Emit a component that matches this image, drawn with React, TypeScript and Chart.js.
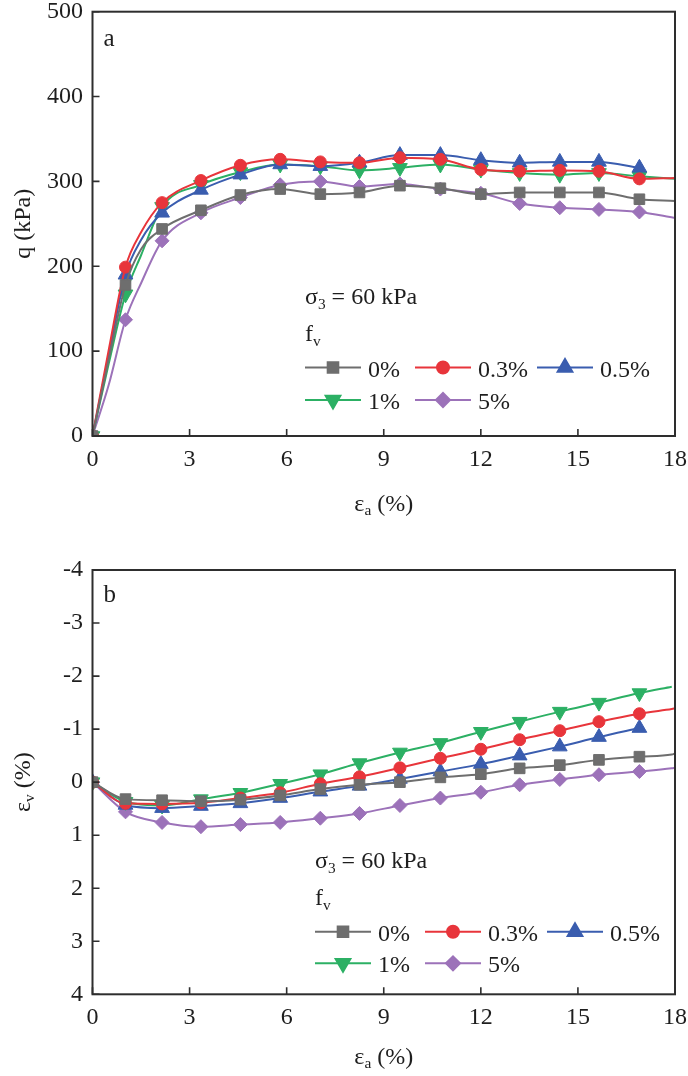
import React, { useEffect, useRef } from 'react';
import { Chart, registerables } from 'chart.js';
import { drawPoint } from 'chart.js/helpers';

Chart.register(...registerables);

const FONT = "'Liberation Serif', 'Times New Roman', serif";
const INK = '#1e1e1e';
const AXIS = '#2e2e2e';

// ---- series meta ----
const SERIES_LABELS = ['0%', '0.3%', '0.5%', '1%', '5%'];
const SERIES_COLORS = ['#6e6e6e', '#e8353b', '#3a5daf', '#2cb064', '#9c72b9'];
const SERIES_MARKERS = ['rect', 'circle', 'triangle', 'triangle', 'rectRot'];
const SERIES_ROTATION = [0, 0, 0, 180, 0];
const MARKER_RADIUS = [7.5, 6, 8.5, 8.5, 7];

// ---- panel a: deviator stress q (kPa) vs axial strain (%) ----
const STRAIN_A = [0, 0.5, 1.02, 1.5, 2.15, 3.35, 4.57, 5.8, 7.04, 8.25, 9.5, 10.75, 12, 13.2, 14.44, 15.65, 16.9, 18];
const MARKED_A = [1, 0, 1, 0, 1, 1, 1, 1, 1, 1, 1, 1, 1, 1, 1, 1, 1, 0];
const Q_0 = [0, 90, 178, 220, 244, 266, 284, 291, 285, 287, 295, 292, 285, 287, 287, 287, 279, 277];
const Q_03 = [0, 101, 199, 240, 275, 301, 319, 326, 323, 322, 328, 326, 314, 312, 313, 312, 303, 304];
const Q_05 = [0, 95, 190, 231, 263, 290, 308, 320, 318, 322, 331, 331, 325, 322, 323, 323, 316, null];
const Q_1 = [0, 85, 167, 213, 270, 296, 311, 320, 318, 313, 316, 320, 314, 310, 308, 310, 306, 303];
const Q_5 = [0, 60, 137, 180, 230, 263, 281, 296, 300, 294, 297, 291, 286, 274, 269, 267, 264, 257];
const Q_TICKS = [0, 100, 200, 300, 400, 500];

// ---- panel b: volumetric strain (%) vs axial strain (%) ----
const STRAIN_B = [0, 1.02, 2.15, 3.35, 4.57, 5.8, 7.04, 8.25, 9.5, 10.75, 12, 13.2, 14.44, 15.65, 16.9, 17.9, 18];
const MARKED_B = [1, 1, 1, 1, 1, 1, 1, 1, 1, 1, 1, 1, 1, 1, 1, 0, 0];
const EV_0 = [0, 0.32, 0.34, 0.36, 0.33, 0.25, 0.13, 0.05, 0.0, -0.09, -0.15, -0.26, -0.32, -0.42, -0.48, -0.52, -0.54];
const EV_03 = [0, 0.4, 0.41, 0.39, 0.3, 0.2, 0.03, -0.1, -0.27, -0.45, -0.62, -0.8, -0.97, -1.14, -1.29, -1.38, -1.39];
const EV_05 = [0, 0.43, 0.49, 0.45, 0.4, 0.3, 0.18, 0.07, -0.06, -0.2, -0.34, -0.5, -0.67, -0.85, -1.02, null, null];
const EV_1 = [0, 0.37, 0.44, 0.32, 0.2, 0.03, -0.15, -0.36, -0.56, -0.74, -0.95, -1.14, -1.33, -1.5, -1.68, -1.8, null];
const EV_5 = [0, 0.56, 0.76, 0.84, 0.8, 0.76, 0.68, 0.59, 0.44, 0.3, 0.19, 0.05, -0.05, -0.14, -0.2, -0.26, -0.27];
const EV_TICKS = [-4, -3, -2, -1, 0, 1, 2, 3, 4];

const STRAIN_TICKS = [0, 3, 6, 9, 12, 15, 18];

type Part = [string, boolean];

function drawRich(ctx: CanvasRenderingContext2D, parts: Part[], x: number, y: number, size: number, align: 'left' | 'center') {
  const subSize = size * 0.64;
  const widths = parts.map(([t, sub]) => {
    ctx.font = `${sub ? subSize : size}px ${FONT}`;
    return ctx.measureText(t).width;
  });
  const total = widths.reduce((a, b) => a + b, 0);
  let cx = align === 'center' ? x - total / 2 : x;
  ctx.textAlign = 'left';
  parts.forEach(([t, sub], i) => {
    ctx.font = `${sub ? subSize : size}px ${FONT}`;
    ctx.fillText(t, cx, sub ? y + size * 0.24 : y);
    cx += widths[i];
  });
}

interface PanelSpec {
  height: number;
  plotTop: number;
  plotBottom: number;
  xs: number[];
  marked: number[];
  ys: (number | null)[][];
  yMin: number;
  yMax: number;
  reverse: boolean;
  yTicks: number[];
  yTitle: Part[];
  letter: string;
  letterY: number;
  legendX: number;
  sigmaBase: number;
  fvBase: number;
  row1: number;
  row2: number;
  xTitleY: number;
}

function makeConfig(p: PanelSpec): any {
  const PLOT_LEFT = 92.5;
  const PLOT_RIGHT = 675;
  const datasets = p.ys.map((vals, i) => ({
    label: SERIES_LABELS[i],
    data: p.xs.map((x, k) => ({ x, y: vals[k] })),
    borderColor: SERIES_COLORS[i],
    backgroundColor: SERIES_COLORS[i],
    pointBackgroundColor: SERIES_COLORS[i],
    pointBorderColor: SERIES_COLORS[i],
    borderWidth: 2,
    pointBorderWidth: 1,
    pointStyle: SERIES_MARKERS[i],
    pointRotation: SERIES_ROTATION[i],
    pointRadius: p.marked.map((m) => (m ? MARKER_RADIUS[i] : 0)),
    pointHoverRadius: 0,
    cubicInterpolationMode: 'monotone',
    spanGaps: false,
  }));

  const decor = {
    id: 'decor',
    afterDraw(chart: any) {
      const ctx: CanvasRenderingContext2D = chart.ctx;
      const a = chart.chartArea;
      const xs = chart.scales.x;
      const ys = chart.scales.y;
      ctx.save();
      // box
      ctx.strokeStyle = AXIS;
      ctx.lineWidth = 2;
      ctx.strokeRect(a.left, a.top, a.right - a.left, a.bottom - a.top);
      // inward ticks
      ctx.lineWidth = 1.6;
      ctx.beginPath();
      xs.ticks.forEach((t: any) => {
        const px = xs.getPixelForValue(t.value);
        ctx.moveTo(px, a.bottom);
        ctx.lineTo(px, a.bottom - 7);
      });
      ys.ticks.forEach((t: any) => {
        const py = ys.getPixelForValue(t.value);
        ctx.moveTo(a.left, py);
        ctx.lineTo(a.left + 7, py);
      });
      ctx.stroke();

      ctx.fillStyle = INK;
      // panel letter
      ctx.textBaseline = 'middle';
      ctx.textAlign = 'left';
      ctx.font = `25px ${FONT}`;
      ctx.fillText(p.letter, a.left + 11, p.letterY);

      // axis titles
      ctx.textBaseline = 'middle';
      drawRich(ctx, [['ε', false], ['a', true], [' (%)', false]], (a.left + a.right) / 2, p.xTitleY, 24, 'center');
      ctx.save();
      ctx.translate(24, (a.top + a.bottom) / 2);
      ctx.rotate(-Math.PI / 2);
      drawRich(ctx, p.yTitle, 0, 0, 24, 'center');
      ctx.restore();

      // annotation + legend
      ctx.textBaseline = 'alphabetic';
      drawRich(ctx, [['σ', false], ['3', true], [' = 60 kPa', false]], p.legendX, p.sigmaBase, 24, 'left');
      drawRich(ctx, [['f', false], ['v', true]], p.legendX, p.fvBase, 24, 'left');

      const cols = [0, 110, 232];
      const slots = [
        [p.row1, 0], [p.row1, 1], [p.row1, 2],
        [p.row2, 0], [p.row2, 1],
      ];
      slots.forEach(([rowY, col], i) => {
        const x0 = p.legendX + cols[col];
        ctx.strokeStyle = SERIES_COLORS[i];
        ctx.fillStyle = SERIES_COLORS[i];
        ctx.lineWidth = 2;
        ctx.beginPath();
        ctx.moveTo(x0, rowY);
        ctx.lineTo(x0 + 56, rowY);
        ctx.stroke();
        drawPoint(ctx, {
          pointStyle: SERIES_MARKERS[i],
          rotation: SERIES_ROTATION[i],
          radius: MARKER_RADIUS[i],
          borderWidth: 1,
        } as any, x0 + 28, rowY);
        ctx.fillStyle = INK;
        ctx.font = `24px ${FONT}`;
        ctx.textAlign = 'left';
        ctx.fillText(SERIES_LABELS[i], x0 + 63, rowY + 9);
      });
      ctx.restore();
    },
  };

  return {
    type: 'line',
    data: { datasets },
    options: {
      responsive: false,
      maintainAspectRatio: false,
      animation: false,
      devicePixelRatio: 1,
      layout: { padding: { top: p.plotTop, right: 688 - PLOT_RIGHT, left: 0, bottom: 0 } },
      plugins: { legend: { display: false }, tooltip: { enabled: false }, title: { display: false } },
      scales: {
        x: {
          type: 'linear',
          min: 0,
          max: 18,
          afterBuildTicks: (s: any) => { s.ticks = STRAIN_TICKS.map((v) => ({ value: v })); },
          grid: { display: false, drawTicks: false },
          border: { display: false },
          ticks: {
            autoSkip: false,
            maxRotation: 0,
            padding: 9,
            color: INK,
            font: { family: FONT, size: 24 },
          },
          afterFit: (s: any) => {
            s.height = p.height - p.plotBottom;
            s.paddingLeft = 0; s.paddingRight = 0; s.paddingTop = 0; s.paddingBottom = 0;
          },
        },
        y: {
          type: 'linear',
          min: p.yMin,
          max: p.yMax,
          reverse: p.reverse,
          afterBuildTicks: (s: any) => { s.ticks = p.yTicks.map((v) => ({ value: v })); },
          grid: { display: false, drawTicks: false },
          border: { display: false },
          ticks: {
            padding: 9.5,
            color: INK,
            font: { family: FONT, size: 24 },
          },
          afterFit: (s: any) => {
            s.width = PLOT_LEFT;
            s.paddingLeft = 0; s.paddingRight = 0; s.paddingTop = 0; s.paddingBottom = 0;
          },
        },
      },
    },
    plugins: [decor],
  };
}

const PANEL_A: PanelSpec = {
  height: 540,
  plotTop: 11.7,
  plotBottom: 436,
  xs: STRAIN_A,
  marked: MARKED_A,
  ys: [Q_0, Q_03, Q_05, Q_1, Q_5],
  yMin: 0,
  yMax: 500,
  reverse: false,
  yTicks: Q_TICKS,
  yTitle: [['q (kPa)', false]],
  letter: 'a',
  letterY: 39,
  legendX: 305,
  sigmaBase: 303.5,
  fvBase: 340.5,
  row1: 367.5,
  row2: 400,
  xTitleY: 505,
};

const PANEL_B: PanelSpec = {
  height: 536,
  plotTop: 30,
  plotBottom: 454.3,
  xs: STRAIN_B,
  marked: MARKED_B,
  ys: [EV_0, EV_03, EV_05, EV_1, EV_5],
  yMin: -4,
  yMax: 4,
  reverse: true,
  yTicks: EV_TICKS,
  yTitle: [['ε', false], ['v', true], [' (%)', false]],
  letter: 'b',
  letterY: 55,
  legendX: 315,
  sigmaBase: 327.5,
  fvBase: 364.5,
  row1: 391.7,
  row2: 423.3,
  xTitleY: 518,
};

function Panel({ spec, top }: { spec: PanelSpec; top: number }) {
  const ref = useRef<HTMLCanvasElement>(null);
  useEffect(() => {
    const chart = new Chart(ref.current as HTMLCanvasElement, makeConfig(spec));
    return () => chart.destroy();
  }, [spec]);
  return (
    <canvas
      ref={ref}
      width={688}
      height={spec.height}
      style={{ position: 'absolute', left: 0, top, width: 688, height: spec.height, display: 'block' }}
    />
  );
}

export default function App() {
  return (
    <div style={{ position: 'absolute', left: 0, top: 0, width: 688, height: 1076, background: '#fff' }}>
      <Panel spec={PANEL_A} top={0} />
      <Panel spec={PANEL_B} top={540} />
    </div>
  );
}
